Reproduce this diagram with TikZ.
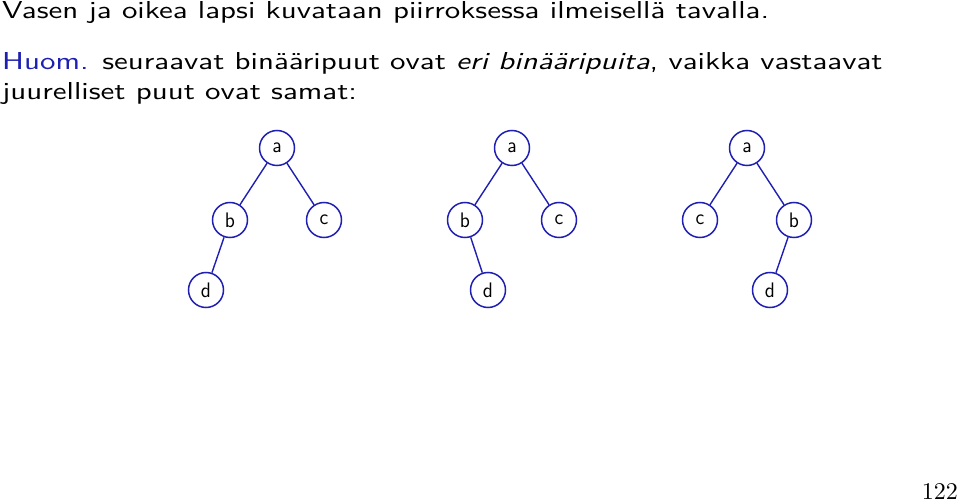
\documentclass[tikz,border=0pt]{standalone}
\usepackage{xcolor}
\usepackage{graphicx}
\usepackage{tikz}

\definecolor{huomblue}{rgb}{0.12,0.12,0.70}
\newcommand{\slidetext}[1]{\scalebox{3.09}[2.45]{\fontsize{10}{12}\sffamily #1}}
\newcommand{\vlabel}[1]{\scalebox{1.95}[2.1]{\fontsize{10}{12}\sffamily #1}}
\tikzset{
	vertex/.style={circle, draw=huomblue, line width=1.5pt, minimum size=35pt, inner sep=0pt},
	edge/.style={draw=huomblue, line width=1.4pt},
	txt/.style={anchor=base west, inner sep=0pt}
}

\begin{document}
\begin{tikzpicture}[x=1pt, y=-1pt]
	\useasboundingbox (0,0) rectangle (960,502);

	\node[txt] (line1) at (2,19) {\slidetext{Vasen ja oikea lapsi kuvataan piirroksessa ilmeisellä tavalla.}};
	\node[txt] (line2) at (2,70) {\slidetext{\textcolor{huomblue}{Huom.} seuraavat binääripuut ovat \textit{eri binääripuita}, vaikka vastaavat}};
	\node[txt] (line3) at (2,100) {\slidetext{juurelliset puut ovat samat:}};

	% tree number / root x / left child / right child / offset of d
	\foreach \t/\x/\l/\r/\dx in {1/277/b/c/-71, 2/512/b/c/-24, 3/747/c/b/23}
	{
		\node[vertex] (a\t) at (\x,148) {\vlabel{a}};
		\node[vertex] (\l\t) at (\x-47,220) {\vlabel{\l}};
		\node[vertex] (\r\t) at (\x+47,220) {\vlabel{\r}};
		\node[vertex] (d\t) at (\x+\dx,290) {\vlabel{d}};
		\draw[edge] (a\t) -- (b\t);
		\draw[edge] (a\t) -- (c\t);
		\draw[edge] (b\t) -- (d\t);
	}

	\node[anchor=base east, inner sep=0pt] (page) at (958,499) {\scalebox{2.4}{\fontsize{10}{12}\selectfont 122}};
\end{tikzpicture}
\end{document}
